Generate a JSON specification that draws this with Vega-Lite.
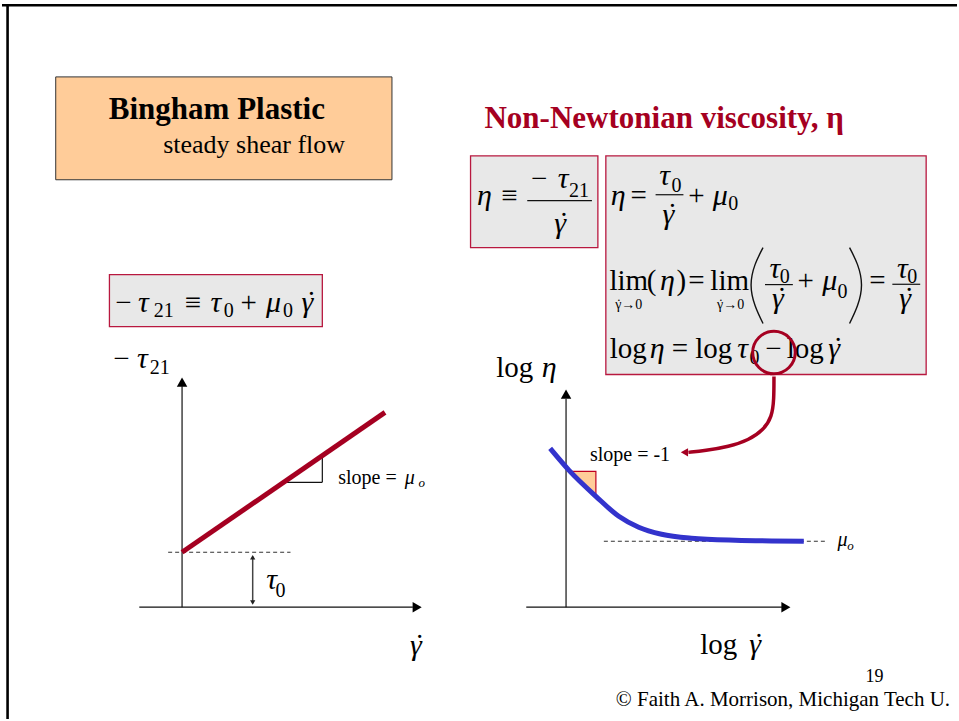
{
  "$schema": "https://vega.github.io/schema/vega-lite/v6.json",
  "width": 959,
  "height": 721,
  "autosize": {"type": "fit", "contains": "padding"},
  "padding": 0,
  "background": "white",
  "config": {"view": {"stroke": null}, "font": "Liberation Serif"},
  "datasets": {
    "border": [
      {"x": 0, "x2": 720, "y": 3.9, "y2": 3.9},
      {"x": 4.2, "x2": 4.2, "y": 3.9, "y2": 540}
    ],
    "eqBoxes": [
      {"x": 353.25, "x2": 449.25, "y": 117, "y2": 186},
      {"x": 455.25, "x2": 696.75, "y": 117, "y2": 281.25},
      {"x": 81, "x2": 241.5, "y": 206.25, "y2": 245.25}
    ],
    "thinLines": [
      {"x": 135.75, "x2": 135.75, "y": 456, "y2": 290},
      {"x": 103.5, "x2": 309.75, "y": 456, "y2": 456},
      {"x": 425.25, "x2": 425.25, "y": 456, "y2": 299.5},
      {"x": 395.25, "x2": 588, "y": 456, "y2": 456},
      {"x": 241.5, "x2": 241.5, "y": 342, "y2": 362.25},
      {"x": 212.5, "x2": 241.5, "y": 362.25, "y2": 362.25},
      {"x": 396, "x2": 444.75, "y": 150.75, "y2": 150.75},
      {"x": 492.75, "x2": 513.75, "y": 146.25, "y2": 146.25},
      {"x": 575.25, "x2": 596.25, "y": 213.75, "y2": 213.75},
      {"x": 671.25, "x2": 692.25, "y": 213.5, "y2": 213.5}
    ],
    "dashes": [
      {"x": 125.25, "x2": 217.5, "y": 414.75, "y2": 414.75},
      {"x": 453.75, "x2": 622.5, "y": 406.5, "y2": 406.5}
    ],
    "flowCurve": [
      {"x": 413.25, "y": 336.75},
      {"x": 427.5, "y": 353.25},
      {"x": 447.75, "y": 372.75},
      {"x": 465, "y": 387.75},
      {"x": 480, "y": 396},
      {"x": 497.25, "y": 401.25},
      {"x": 519.75, "y": 404.25},
      {"x": 552.75, "y": 405.75},
      {"x": 604.5, "y": 406.5}
    ],
    "bigParens": [
      {"side": "left", "i": 0, "x": 573.75, "y": 186},
      {"side": "left", "i": 1, "x": 567.75, "y": 198.75},
      {"side": "left", "i": 2, "x": 564.75, "y": 214},
      {"side": "left", "i": 3, "x": 567.75, "y": 229.5},
      {"side": "left", "i": 4, "x": 573.75, "y": 243},
      {"side": "right", "i": 0, "x": 639, "y": 186},
      {"side": "right", "i": 1, "x": 645, "y": 198.75},
      {"side": "right", "i": 2, "x": 648, "y": 214},
      {"side": "right", "i": 3, "x": 645, "y": 229.5},
      {"side": "right", "i": 4, "x": 639, "y": 243}
    ],
    "callout": [
      {"i": 0, "x": 582, "y": 282.75},
      {"i": 1, "x": 582, "y": 300},
      {"i": 2, "x": 580.5, "y": 313},
      {"i": 3, "x": 574, "y": 323},
      {"i": 4, "x": 563, "y": 330.5},
      {"i": 5, "x": 548, "y": 335.5},
      {"i": 6, "x": 530, "y": 338.5},
      {"i": 7, "x": 517.5, "y": 339.75}
    ],
    "slopeWedge": [
      {"x": 429, "y": 354, "y2": 354},
      {"x": 447.75, "y": 354, "y2": 372.75}
    ],
    "slopeWedgeEdge": [
      {"i": 0, "x": 429, "y": 354},
      {"i": 1, "x": 447.75, "y": 354},
      {"i": 2, "x": 447.75, "y": 372.75},
      {"i": 3, "x": 429, "y": 354}
    ],
    "axisHeads": [
      {"x": 135.75, "y": 287, "dir": "up"},
      {"x": 313, "y": 456, "dir": "right"},
      {"x": 425.25, "y": 296, "dir": "up"},
      {"x": 591, "y": 456, "dir": "right"}
    ],
    "tauHeads": [
      {"x": 189, "y": 418.5, "dir": "up"},
      {"x": 189, "y": 452.5, "dir": "down"}
    ],
    "mathItalic": [
      {"x": 363.75, "y": 153.75, "t": "η"},
      {"x": 423, "y": 141, "t": "τ"},
      {"x": 420.75, "y": 174.75, "t": "γ"},
      {"x": 464.6, "y": 153.75, "t": "η"},
      {"x": 499.5, "y": 138.75, "t": "τ"},
      {"x": 502.5, "y": 168, "t": "γ"},
      {"x": 541.5, "y": 153.75, "t": "μ"},
      {"x": 501.75, "y": 217.5, "t": "η"},
      {"x": 582.75, "y": 208.5, "t": "τ"},
      {"x": 585, "y": 231, "t": "γ"},
      {"x": 624, "y": 218, "t": "μ"},
      {"x": 678.75, "y": 208.5, "t": "τ"},
      {"x": 681, "y": 231, "t": "γ"},
      {"x": 493.9, "y": 268.5, "t": "η"},
      {"x": 558.4, "y": 268.5, "t": "τ"},
      {"x": 627.4, "y": 268.5, "t": "γ"},
      {"x": 106.5, "y": 234, "t": "τ"},
      {"x": 161.25, "y": 234, "t": "τ"},
      {"x": 204.75, "y": 234, "t": "μ"},
      {"x": 230.25, "y": 234, "t": "γ"},
      {"x": 105.75, "y": 276.75, "t": "τ"},
      {"x": 203.25, "y": 442.5, "t": "τ"},
      {"x": 312, "y": 492, "t": "γ"},
      {"x": 412.5, "y": 283.5, "t": "η"},
      {"x": 567.75, "y": 491.25, "t": "γ"}
    ],
    "mathRoman": [
      {"x": 382.5, "y": 153.75, "t": "≡"},
      {"x": 405, "y": 141, "t": "−"},
      {"x": 480, "y": 153.75, "t": "="},
      {"x": 523.5, "y": 153.75, "t": "+"},
      {"x": 472.5, "y": 217.5, "t": "lim"},
      {"x": 489.75, "y": 217.5, "t": "("},
      {"x": 512.25, "y": 217.5, "t": ")"},
      {"x": 523.5, "y": 217.5, "t": "="},
      {"x": 548.6, "y": 217.5, "t": "lim"},
      {"x": 606, "y": 217.5, "t": "+"},
      {"x": 660, "y": 217.5, "t": "="},
      {"x": 472.1, "y": 268.5, "t": "log"},
      {"x": 511.1, "y": 268.5, "t": "="},
      {"x": 536.6, "y": 268.5, "t": "log"},
      {"x": 581.6, "y": 268.5, "t": "−"},
      {"x": 605.6, "y": 268.5, "t": "log"},
      {"x": 91.5, "y": 234, "t": "−"},
      {"x": 144, "y": 234, "t": "≡"},
      {"x": 186, "y": 234, "t": "+"},
      {"x": 90, "y": 276.75, "t": "−"},
      {"x": 386.6, "y": 283.5, "t": "log"},
      {"x": 540.4, "y": 491.25, "t": "log"}
    ],
    "mathSub": [
      {"x": 435, "y": 147.75, "t": "21"},
      {"x": 508.6, "y": 144, "t": "0"},
      {"x": 551.25, "y": 157.5, "t": "0"},
      {"x": 590.2, "y": 212.25, "t": "0"},
      {"x": 633.75, "y": 223.5, "t": "0"},
      {"x": 686.2, "y": 212.25, "t": "0"},
      {"x": 567.4, "y": 273.75, "t": "0"},
      {"x": 121.9, "y": 237.75, "t": "21"},
      {"x": 171, "y": 237.75, "t": "0"},
      {"x": 215.6, "y": 237.75, "t": "0"},
      {"x": 118.9, "y": 281.25, "t": "21"},
      {"x": 210, "y": 448.5, "t": "0"}
    ],
    "limSub": [
      {"x": 472.5, "y": 231.75, "t": "γ→0"},
      {"x": 549.4, "y": 231.75, "t": "γ→0"}
    ],
    "notes": [
      {"x": 253.5, "y": 363.75, "t": "slope ="},
      {"x": 443.25, "y": 346.5, "t": "slope = -1"}
    ],
    "noteItalic": [
      {"x": 307.5, "y": 363.75, "t": "μ"},
      {"x": 633.75, "y": 410.25, "t": "μ"}
    ],
    "noteSub": [
      {"x": 316.5, "y": 366, "t": "o"},
      {"x": 639.75, "y": 413.25, "t": "o"}
    ]
  },
  "encoding": {
    "x": {"field": "x", "type": "quantitative", "scale": {"domain": [0, 720], "nice": false, "zero": false}, "axis": null},
    "y": {"field": "y", "type": "quantitative", "scale": {"domain": [0, 540], "nice": false, "zero": false, "reverse": true}, "axis": null}
  },
  "layer": [
    {
      "data": {"name": "border"},
      "mark": {"type": "rule", "color": "#000000", "strokeWidth": 2.6},
      "encoding": {"x2": {"field": "x2"}, "y2": {"field": "y2"}}
    },
    {
      "data": {"values": [{"x": 40.5, "x2": 294, "y": 57.75, "y2": 135}]},
      "mark": {"type": "rect", "fill": "#FFCC99", "stroke": "#333333", "strokeWidth": 1},
      "encoding": {"x2": {"field": "x2"}, "y2": {"field": "y2"}}
    },
    {
      "data": {"name": "eqBoxes"},
      "mark": {"type": "rect", "fill": "#E8E8E8", "stroke": "#B8183F", "strokeWidth": 1.3},
      "encoding": {"x2": {"field": "x2"}, "y2": {"field": "y2"}}
    },
    {
      "data": {"values": [{"x": 162, "y": 89.25, "t": "Bingham Plastic"}]},
      "mark": {"type": "text", "font": "Liberation Serif", "fontSize": 31, "fontWeight": "bold", "align": "center", "baseline": "alphabetic", "color": "#000000"},
      "encoding": {"text": {"field": "t"}}
    },
    {
      "data": {"values": [{"x": 121.5, "y": 114.75, "t": "steady shear flow"}]},
      "mark": {"type": "text", "font": "Liberation Serif", "fontSize": 26, "align": "left", "baseline": "alphabetic", "color": "#000000"},
      "encoding": {"text": {"field": "t"}}
    },
    {
      "data": {"values": [{"x": 363.75, "y": 96, "t": "Non-Newtonian viscosity, η"}]},
      "mark": {"type": "text", "font": "Liberation Serif", "fontSize": 31, "fontWeight": "bold", "align": "left", "baseline": "alphabetic", "color": "#A50021"},
      "encoding": {"text": {"field": "t"}}
    },
    {
      "data": {"name": "thinLines"},
      "mark": {"type": "rule", "color": "#111111", "strokeWidth": 1.2},
      "encoding": {"x2": {"field": "x2"}, "y2": {"field": "y2"}}
    },
    {
      "data": {"name": "dashes"},
      "mark": {"type": "rule", "color": "#333333", "strokeWidth": 1.1, "strokeDash": [4, 3]},
      "encoding": {"x2": {"field": "x2"}, "y2": {"field": "y2"}}
    },
    {
      "data": {"values": [{"x": 189, "x2": 189, "y": 418, "y2": 453}]},
      "mark": {"type": "rule", "color": "#444444", "strokeWidth": 1.5},
      "encoding": {"x2": {"field": "x2"}, "y2": {"field": "y2"}}
    },
    {
      "data": {"values": [{"x": 135.75, "y": 414.75, "x2": 288.75, "y2": 309.75}]},
      "mark": {"type": "rule", "color": "#A50021", "strokeWidth": 5},
      "encoding": {"x2": {"field": "x2"}, "y2": {"field": "y2"}}
    },
    {
      "data": {"name": "slopeWedge"},
      "mark": {"type": "area", "orient": "vertical", "color": "#FFCC99", "opacity": 1},
      "encoding": {"y2": {"field": "y2"}}
    },
    {
      "data": {"name": "slopeWedgeEdge"},
      "mark": {"type": "line", "color": "#C00020", "strokeWidth": 1.2},
      "encoding": {"order": {"field": "i", "type": "quantitative"}}
    },
    {
      "data": {"name": "flowCurve"},
      "mark": {"type": "line", "color": "#3333CC", "strokeWidth": 5, "interpolate": "monotone"},
      "encoding": {}
    },
    {
      "data": {"name": "bigParens"},
      "mark": {"type": "line", "color": "#111111", "strokeWidth": 1.4, "interpolate": "natural"},
      "encoding": {"detail": {"field": "side"}, "order": {"field": "i", "type": "quantitative"}}
    },
    {
      "data": {"name": "mathItalic"},
      "mark": {"type": "text", "font": "Liberation Serif", "fontSize": 30, "fontStyle": "italic", "align": "center", "baseline": "alphabetic", "color": "#000000"},
      "encoding": {"text": {"field": "t"}}
    },
    {
      "data": {"name": "mathItalic"},
      "transform": [{"filter": "datum.t === 'γ'"}],
      "mark": {"type": "text", "text": "˙", "font": "Liberation Serif", "fontSize": 30, "fontStyle": "italic", "align": "center", "baseline": "alphabetic", "dx": 2, "color": "#000000"}
    },
    {
      "data": {"name": "mathRoman"},
      "mark": {"type": "text", "font": "Liberation Serif", "fontSize": 29, "align": "center", "baseline": "alphabetic", "color": "#000000"},
      "encoding": {"text": {"field": "t"}}
    },
    {
      "data": {"name": "mathSub"},
      "mark": {"type": "text", "font": "Liberation Serif", "fontSize": 20, "align": "center", "baseline": "alphabetic", "color": "#000000"},
      "encoding": {"text": {"field": "t"}}
    },
    {
      "data": {"name": "limSub"},
      "mark": {"type": "text", "font": "Liberation Serif", "fontSize": 14, "align": "center", "baseline": "alphabetic", "color": "#000000"},
      "encoding": {"text": {"field": "t"}}
    },
    {
      "data": {"name": "limSub"},
      "mark": {"type": "text", "text": "˙", "font": "Liberation Serif", "fontSize": 14, "align": "center", "baseline": "alphabetic", "dx": -10, "color": "#000000"}
    },
    {
      "data": {"name": "notes"},
      "mark": {"type": "text", "font": "Liberation Serif", "fontSize": 20, "align": "left", "baseline": "alphabetic", "color": "#000000"},
      "encoding": {"text": {"field": "t"}}
    },
    {
      "data": {"name": "noteItalic"},
      "mark": {"type": "text", "font": "Liberation Serif", "fontSize": 20, "fontStyle": "italic", "align": "center", "baseline": "alphabetic", "color": "#000000"},
      "encoding": {"text": {"field": "t"}}
    },
    {
      "data": {"name": "noteSub"},
      "mark": {"type": "text", "font": "Liberation Serif", "fontSize": 13, "fontStyle": "italic", "align": "center", "baseline": "alphabetic", "color": "#000000"},
      "encoding": {"text": {"field": "t"}}
    },
    {
      "data": {"name": "axisHeads"},
      "mark": {"type": "point", "filled": true, "size": 110, "color": "#000000", "opacity": 1},
      "encoding": {"shape": {"field": "dir", "type": "nominal", "scale": {"domain": ["up", "right", "down", "left"], "range": ["triangle-up", "triangle-right", "triangle-down", "triangle-left"]}, "legend": null}}
    },
    {
      "data": {"name": "tauHeads"},
      "mark": {"type": "point", "filled": true, "size": 28, "color": "#222222", "opacity": 1},
      "encoding": {"shape": {"field": "dir", "type": "nominal", "scale": {"domain": ["up", "right", "down", "left"], "range": ["triangle-up", "triangle-right", "triangle-down", "triangle-left"]}, "legend": null}}
    },
    {
      "data": {"values": [{"x": 582, "y": 264.75}]},
      "mark": {"type": "point", "shape": "circle", "filled": false, "size": 1810, "stroke": "#A50021", "strokeWidth": 3, "opacity": 1},
      "encoding": {}
    },
    {
      "data": {"name": "callout"},
      "mark": {"type": "line", "color": "#A50021", "strokeWidth": 3.5, "interpolate": "basis"},
      "encoding": {"order": {"field": "i", "type": "quantitative"}}
    },
    {
      "data": {"values": [{"x": 514.5, "y": 339.75}]},
      "mark": {"type": "point", "shape": "triangle-left", "filled": true, "size": 70, "color": "#A50021", "opacity": 1},
      "encoding": {}
    },
    {
      "data": {"values": [{"x": 651, "y": 512.25, "t": "19"}]},
      "mark": {"type": "text", "font": "Liberation Serif", "fontSize": 18, "align": "left", "baseline": "alphabetic", "color": "#000000"},
      "encoding": {"text": {"field": "t"}}
    },
    {
      "data": {"values": [{"x": 462.75, "y": 530.25, "t": "© Faith A. Morrison, Michigan Tech U."}]},
      "mark": {"type": "text", "font": "Liberation Serif", "fontSize": 21, "align": "left", "baseline": "alphabetic", "color": "#000000"},
      "encoding": {"text": {"field": "t"}}
    }
  ]
}
